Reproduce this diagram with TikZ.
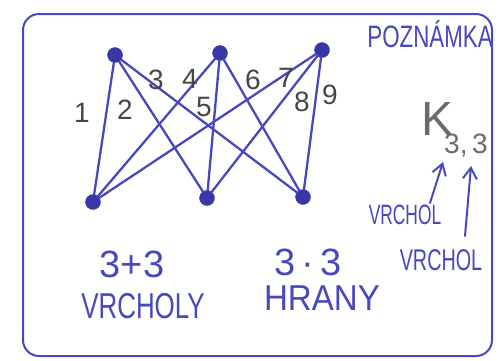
\documentclass[tikz,border=0pt]{standalone}
\usepackage{fontspec}
\setmainfont{Liberation Sans}
\usetikzlibrary{arrows.meta}
\definecolor{ink}{RGB}{72,72,190}
\definecolor{inkdark}{RGB}{55,55,165}
\definecolor{pencil}{RGB}{70,70,70}
\tikzset{
  vert/.style={circle, fill=inkdark, draw=inkdark, minimum size=15pt, inner sep=0pt},
  edge/.style={draw=ink, line width=2.3pt, line cap=round},
  num/.style={text=pencil, font=\fontsize{28}{30}\selectfont, inner sep=0pt},
  bluetext/.style={text=ink, inner sep=0pt},
  arr/.style={draw=ink, line width=2pt, line cap=round, -{Straight Barb[length=11pt,width=14pt,line width=2pt]}}
}
\begin{document}
\begin{tikzpicture}[x=1pt,y=-1pt]
\useasboundingbox (0,0) rectangle (502,360);
\draw[draw=ink, line width=2pt, rounded corners=16pt] (23,14) rectangle (492,356);
% vertices
\node[vert] (a1) at (115,55) {};
\node[vert] (a2) at (220,53) {};
\node[vert] (a3) at (322,50) {};
\node[vert] (b1) at (93,202) {};
\node[vert] (b2) at (207,198) {};
\node[vert] (b3) at (303,197) {};
% edges
\foreach \a in {a1,a2,a3}{
  \foreach \b in {b1,b2,b3}{
    \draw[edge] (\a) -- (\b);
  }
}
% edge labels
\node[num] (n1) at (82,113) {1};
\node[num] (n2) at (125,110) {2};
\node[num] (n3) at (156,80) {3};
\node[num] (n4) at (190,79) {4};
\node[num] (n5) at (204,107) {5};
\node[num] (n6) at (253,80) {6};
\node[num] (n7) at (286,78) {7};
\node[num] (n8) at (302,102) {8};
\node[num] (n9) at (330,95) {9};
% note
\node[bluetext, font=\fontsize{31}{33}\selectfont] (pz) at (430,34) {\scalebox{0.72}[1]{POZNÁMKA}};
\node[text=pencil!80, inner sep=0pt, font=\fontsize{48}{50}\selectfont] (K) at (437,119) {K};
\node[text=pencil!80, inner sep=0pt, font=\fontsize{28}{30}\selectfont] (sub) at (466,146) {3,\,3};
\node[bluetext, font=\fontsize{28}{30}\selectfont] (v1) at (405,215) {\scalebox{0.62}[1]{VRCHOL}};
\node[bluetext, font=\fontsize{30}{32}\selectfont] (v2) at (441,260) {\scalebox{0.66}[1]{VRCHOL}};
\coordinate (t1) at (430,203);
\coordinate (h1) at (443,162);
\coordinate (t2) at (465,236);
\coordinate (h2) at (471,166);
\draw[arr] (t1) -- (h1);
\draw[arr] (t2) -- (h2);
% bottom texts
\node[bluetext, font=\fontsize{38}{40}\selectfont] (s1) at (132,264) {3+3};
\node[bluetext, font=\fontsize{36}{38}\selectfont] (s2) at (143,306) {\scalebox{0.72}[1]{VRCHOLY}};
\node[bluetext, font=\fontsize{38}{40}\selectfont] (s3) at (308,262) {3\,·\,3};
\node[bluetext, font=\fontsize{36}{38}\selectfont] (s4) at (322,298) {\scalebox{0.92}[1]{HRANY}};
\end{tikzpicture}
\end{document}
